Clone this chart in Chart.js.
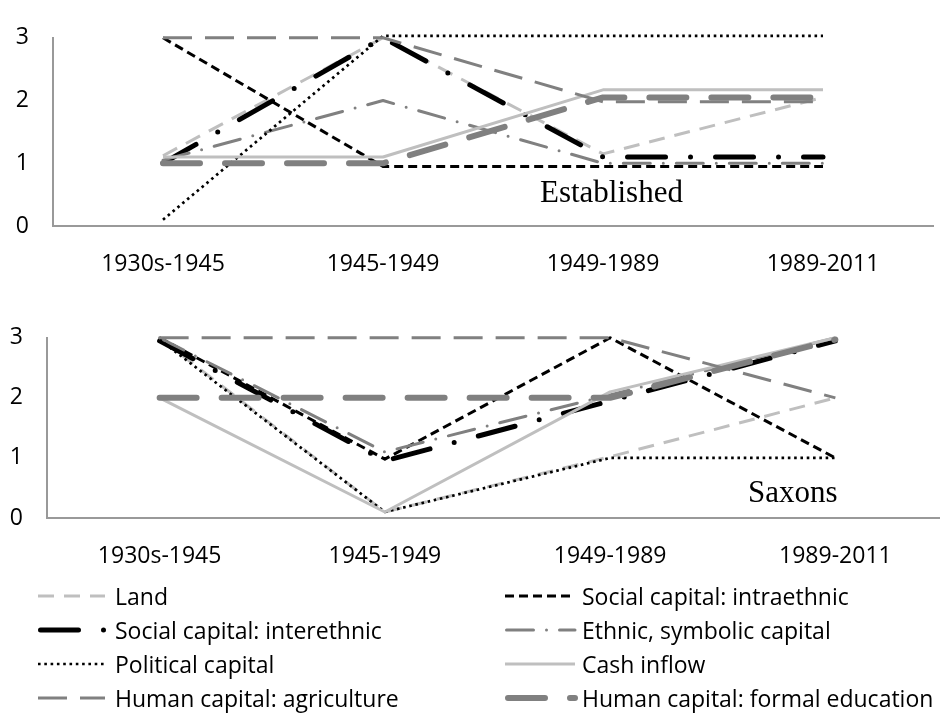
<!DOCTYPE html>
<html>
<head>
<meta charset="utf-8">
<script src="https://cdn.jsdelivr.net/npm/chart.js@4.4.1/dist/chart.umd.min.js"></script>
<style>
  html, body { margin: 0; padding: 0; background: #fff; overflow: hidden; }
  body { width: 940px; height: 714px; position: relative; font-family: 'Open Sans', sans-serif; }
  canvas { position: absolute; left: 0; }
  #topChart { top: 0; }
  #bottomChart { top: 300px; }
  .tag { position: absolute; font-family: 'Liberation Serif', serif; font-size: 31px; line-height: 1; color: #000; }
  .lg-text { position: absolute; font-size: 23px; line-height: 30px; height: 30px; color: #000; white-space: nowrap; }
  .lg-line { position: absolute; overflow: visible; }
</style>
</head>
<body>
<canvas id="topChart" width="940" height="285"></canvas>
<canvas id="bottomChart" width="948" height="285"></canvas>
<div class="tag" style="left:540px; top:176px;">Established</div>
<div class="tag" style="left:748px; top:476px;">Saxons</div>
<div id="legend"></div>
<script>
// categories and ticks
const CATEGORIES = ['1930s-1945', '1945-1949', '1949-1989', '1989-2011'];
const Y_TICKS = [0, 1, 2, 3];
const SERIES = ['Land', 'Social capital: intraethnic', 'Social capital: interethnic',
  'Ethnic, symbolic capital', 'Political capital', 'Cash inflow',
  'Human capital: agriculture', 'Human capital: formal education'];

// Established
const EST_LAND = [1.12, 3, 1.15, 2.05];
const EST_INTRA = [3, 0.95, 0.95, 0.95];
const EST_INTER = [1, 3, 1.1, 1.1];
const EST_ETHNIC = [1.05, 2, 1, 1];
const EST_POLITICAL = [0.1, 3.03, 3.03, 3.03];
const EST_CASH = [1.1, 1.1, 2.17, 2.17];
const EST_AGRI = [3, 3, 1.98, 1.98];
const EST_EDU = [1, 1, 2.05, 2.05];

// Saxons
const SAX_LAND = [3, 0.1, 1.02, 2];
const SAX_INTRA = [3, 0.98, 3, 1];
const SAX_INTER = [2.95, 0.95, 1.95, 2.95];
const SAX_ETHNIC = [3, 1.1, 2.05, 3];
const SAX_POLITICAL = [2.97, 0.1, 1, 1];
const SAX_CASH = [2, 0.1, 2.1, 3];
const SAX_AGRI = [3, 3, 3, 2];
const SAX_EDU = [2, 2, 2, 2.97];

// line look per series (same order as SERIES)
const STYLES = [
  { color: '#bfbfbf', width: 3, dash: [16, 10], cap: 'butt' },
  { color: '#000000', width: 3, dash: [9, 5], cap: 'butt' },
  { color: '#000000', width: 5, dash: [38, 25, 0, 25], cap: 'round' },
  { color: '#808080', width: 3, dash: [27, 13, 0, 13], cap: 'round' },
  { color: '#000000', width: 2.7, dash: [2.6, 3.7], cap: 'butt' },
  { color: '#bfbfbf', width: 3, dash: [], cap: 'butt' },
  { color: '#808080', width: 3, dash: [29, 13], cap: 'butt' },
  { color: '#808080', width: 6, dash: [37, 25], cap: 'round' }
];

Chart.defaults.font.family = "'Open Sans', sans-serif";
Chart.defaults.font.size = 23;
Chart.defaults.color = '#000';

function makeChart(id, values, box) {
  const datasets = values.map((v, i) => ({
    label: SERIES[i],
    data: v,
    borderColor: STYLES[i].color,
    borderWidth: STYLES[i].width,
    borderDash: STYLES[i].dash,
    borderCapStyle: STYLES[i].cap,
    borderJoinStyle: 'round',
    pointRadius: 0,
    tension: 0,
    fill: false,
    clip: false,
    order: values.length - i
  }));
  return new Chart(document.getElementById(id), {
    type: 'line',
    data: { labels: CATEGORIES, datasets: datasets },
    options: {
      responsive: false,
      animation: false,
      events: [],
      layout: { padding: { top: box.top, right: box.right, left: 0, bottom: 0 } },
      scales: {
        x: {
          offset: true,
          grid: { display: false, drawTicks: false },
          border: { display: true, color: '#999', width: 2 },
          ticks: { padding: 25, maxRotation: 0 },
          afterFit: s => { s.height = box.xHeight; }
        },
        y: {
          min: 0,
          max: 3,
          grid: { display: false, drawTicks: false },
          border: { display: true, color: '#999', width: 2 },
          ticks: { padding: 24 },
          afterBuildTicks: s => { s.ticks = Y_TICKS.map(v => ({ value: v })); },
          afterFit: s => { s.width = box.yWidth; }
        }
      },
      plugins: { legend: { display: false }, tooltip: { enabled: false } }
    }
  });
}

makeChart('topChart',
  [EST_LAND, EST_INTRA, EST_INTER, EST_ETHNIC, EST_POLITICAL, EST_CASH, EST_AGRI, EST_EDU],
  { top: 21, right: 7, xHeight: 59, yWidth: 53 });
makeChart('bottomChart',
  [SAX_LAND, SAX_INTRA, SAX_INTER, SAX_ETHNIC, SAX_POLITICAL, SAX_CASH, SAX_AGRI, SAX_EDU],
  { top: 26, right: 0, xHeight: 67, yWidth: 47 });

// shared legend, two columns
const LEGEND_ROWS = [596, 630, 664, 698];
const legend = document.getElementById('legend');
SERIES.forEach((name, i) => {
  const col = i % 2, row = Math.floor(i / 2);
  const st = STYLES[i];
  const x0 = col === 0 ? 38 : 505;
  const len = col === 0 ? 67 : 70;
  const textX = col === 0 ? 115 : 582;
  const y = LEGEND_ROWS[row];
  const capPad = st.cap === 'round' ? st.width / 2 : 0;
  const svgNS = 'http://www.w3.org/2000/svg';
  const svg = document.createElementNS(svgNS, 'svg');
  svg.setAttribute('class', 'lg-line');
  svg.setAttribute('width', len + 4);
  svg.setAttribute('height', 12);
  svg.style.left = x0 + 'px';
  svg.style.top = (y - 6) + 'px';
  const ln = document.createElementNS(svgNS, 'line');
  ln.setAttribute('x1', capPad);
  ln.setAttribute('x2', len);
  ln.setAttribute('y1', 6);
  ln.setAttribute('y2', 6);
  ln.setAttribute('stroke', st.color);
  ln.setAttribute('stroke-width', st.width);
  ln.setAttribute('stroke-linecap', st.cap);
  if (st.dash.length) ln.setAttribute('stroke-dasharray', st.dash.join(' '));
  svg.appendChild(ln);
  legend.appendChild(svg);
  const t = document.createElement('div');
  t.className = 'lg-text';
  t.style.left = textX + 'px';
  t.style.top = (y - 15) + 'px';
  t.textContent = name;
  legend.appendChild(t);
});
</script>
</body>
</html>
